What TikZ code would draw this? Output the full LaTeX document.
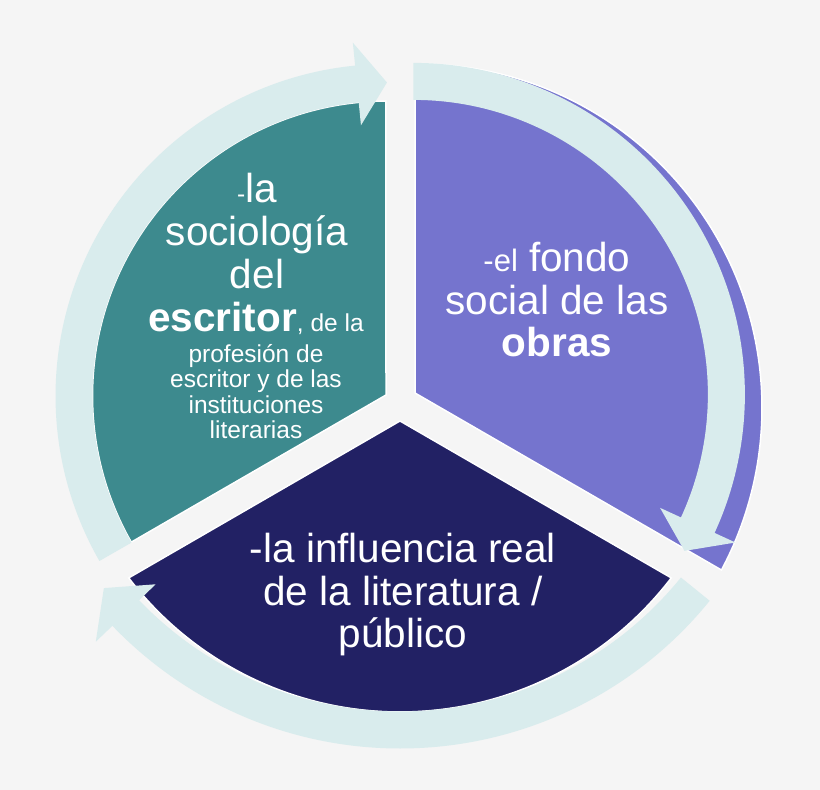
\documentclass[tikz,border=0pt]{standalone}
\usepackage{fontspec}
\setmainfont{Liberation Sans}
\usepackage{xcolor}
\usepackage{tikz}
\usetikzlibrary{calc}
\definecolor{bgcol}{RGB}{245,245,245}
\definecolor{tealsec}{RGB}{61,138,142}
\definecolor{lilacsec}{RGB}{117,116,206}
\definecolor{navysec}{RGB}{34,33,100}
\definecolor{bandcol}{RGB}{217,236,237}
\newcommand{\lesssize}{\fontsize{24.5pt}{25.5pt}\selectfont}
\newcommand{\ringarrow}[6]{ % Takes centre, inner radius, outer radius, tail angle, head base angle, tip angle as arguments
    \fill[bandcol] ($(#1)+(#4:#3)$) arc[start angle=#4, end angle=#5, radius=#3]
        -- ($(#1)+(#5:{#3+23})$) -- ($(#1)+(#6:{(#2+#3)/2})$) -- ($(#1)+(#5:{#2-23})$)
        -- ($(#1)+(#5:#2)$) arc[start angle=#5, end angle=#4, radius=#2] -- cycle;
}

\begin{document}
\begin{tikzpicture}[x=1pt, y=1pt,
    sector/.style={draw=white, line width=1.5pt},
    txt/.style={text=white, anchor=base, inner sep=0pt},
    bigtxt/.style={txt, font=\fontsize{40.5pt}{43pt}\selectfont},
    smalltxt/.style={txt, font=\lesssize}]
    % Background
    \fill[bgcol] (0,0) rectangle (820,790);
    \useasboundingbox (0,0) rectangle (820,790);

    % Centres of the arcs
    \coordinate (Ct) at (387.5,394);
    \coordinate (Cp) at (418,382);
    \coordinate (Cn) at (400,419.5);
    \coordinate (B1) at (387.5,394);
    \coordinate (B2) at (413.4,395.6);
    \coordinate (B3) at (400,440);

    % Inner corners of the sectors
    \coordinate (tealcorner) at (386,395);
    \coordinate (lilaccorner) at (415,397);
    \coordinate (navycorner) at (400,369);

    % Sectors
    \fill[tealsec, sector] (tealcorner) -- ($(Ct)+(90.3:295)$) arc[start angle=90.3, end angle=209.7, radius=295] -- cycle;
    \fill[lilacsec, sector] (lilaccorner) -- ($(Cp)+(90.5:344)$) arc[start angle=90.5, end angle=-28.1, radius=344] -- cycle;
    \fill[navysec, sector] (navycorner) -- ($(Cn)+(217.4:341.5)$) arc[start angle=217.4, end angle=322.6, radius=341.5] -- cycle;

    % Arrows round the circle
    \ringarrow{B1}{295}{332}{209.8}{95.6}{90.1}
    \ringarrow{B2}{294.5}{331.5}{90}{-24.7}{-30}
    \ringarrow{B3}{361.5}{398.5}{321}{223.8}{218.8}

    % Texts
    \node[bigtxt] (soc1) at (257,587.5) {{\lesssize -}la};
    \node[bigtxt] (soc2) at (257,544.5) {sociología};
    \node[bigtxt] (soc3) at (257,501.5) {del};
    \node[bigtxt] (soc4) at (256,458.5) {\textbf{escritor}{\lesssize , de la}};
    \node[smalltxt] (soc5) at (256,427.5) {profesión de};
    \node[smalltxt] (soc6) at (256,402) {escritor y de las};
    \node[smalltxt] (soc7) at (256,376.5) {instituciones};
    \node[smalltxt] (soc8) at (256,351) {literarias};

    \node[bigtxt] (fondo1) at (557,518) {{\fontsize{31pt}{33pt}\selectfont -el} fondo};
    \node[bigtxt] (fondo2) at (557,475) {social de las};
    \node[bigtxt] (fondo3) at (557,433) {\textbf{obras}};

    \node[bigtxt] (infl1) at (403,227) {-la influencia real};
    \node[bigtxt] (infl2) at (403,184.5) {de la literatura /};
    \node[bigtxt] (infl3) at (403,142) {público};
\end{tikzpicture}
\end{document}
